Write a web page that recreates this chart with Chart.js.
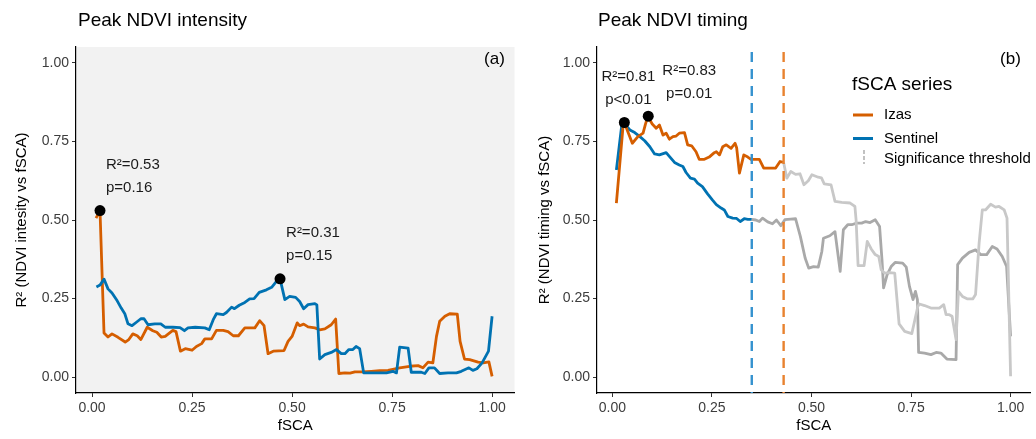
<!DOCTYPE html>
<html>
<head>
<meta charset="utf-8">
<script src="https://cdn.jsdelivr.net/npm/chart.js@4.4.1/dist/chart.umd.min.js"></script>
<style>
  body { margin: 0; background: #fff; width: 1036px; height: 439px; overflow: hidden; position: relative; }
  .panel { position: absolute; top: 0; height: 439px; }
  #p1 { left: 0; width: 520px; }
  #p2 { left: 520px; width: 516px; }
</style>
</head>
<body>
<div class="panel" id="p1"><canvas id="intensityChart"></canvas></div>
<div class="panel" id="p2"><canvas id="timingChart"></canvas></div>

<script>
// ---- data (fSCA, R²) ----
const fscaTicks = [0, 0.25, 0.5, 0.75, 1];
const r2Ticks = [0, 0.25, 0.5, 0.75, 1];

const intensityIzas = [
  [0.01,0.506],[0.02,0.53],[0.03,0.141],[0.04,0.128],[0.05,0.138],[0.065,0.127],[0.083,0.112],
  [0.092,0.12],[0.102,0.138],[0.113,0.132],[0.122,0.12],[0.138,0.159],[0.152,0.148],[0.162,0.143],
  [0.173,0.128],[0.183,0.13],[0.202,0.149],[0.21,0.145],[0.221,0.083],[0.233,0.091],[0.25,0.086],
  [0.261,0.098],[0.274,0.107],[0.282,0.122],[0.299,0.122],[0.311,0.149],[0.328,0.149],[0.34,0.145],
  [0.353,0.132],[0.366,0.132],[0.382,0.157],[0.407,0.157],[0.419,0.18],[0.43,0.164],[0.44,0.075],
  [0.453,0.083],[0.48,0.085],[0.49,0.114],[0.5,0.13],[0.513,0.173],[0.519,0.164],[0.529,0.169],
  [0.54,0.16],[0.557,0.157],[0.569,0.151],[0.582,0.154],[0.598,0.167],[0.609,0.185],[0.617,0.012],
  [0.632,0.014],[0.645,0.013],[0.657,0.017],[0.675,0.017],[0.698,0.019],[0.719,0.021],[0.74,0.022],
  [0.769,0.03],[0.794,0.035],[0.815,0.037],[0.827,0.03],[0.84,0.048],[0.852,0.046],[0.861,0.13],
  [0.869,0.178],[0.882,0.194],[0.894,0.202],[0.913,0.201],[0.92,0.114],[0.931,0.058],[0.944,0.056],
  [0.965,0.048],[0.978,0.046],[0.992,0.049],[1.0,0.003]
];

const intensitySentinel = [
  [0.011,0.287],[0.02,0.293],[0.03,0.312],[0.04,0.281],[0.05,0.268],[0.063,0.243],[0.073,0.22],
  [0.082,0.202],[0.09,0.17],[0.1,0.164],[0.111,0.175],[0.122,0.186],[0.13,0.186],[0.14,0.167],
  [0.157,0.17],[0.172,0.17],[0.183,0.159],[0.202,0.159],[0.22,0.158],[0.231,0.148],[0.24,0.157],
  [0.258,0.159],[0.282,0.157],[0.293,0.151],[0.303,0.183],[0.311,0.202],[0.328,0.199],[0.336,0.206],
  [0.349,0.223],[0.356,0.218],[0.368,0.229],[0.382,0.238],[0.394,0.249],[0.405,0.25],[0.418,0.27],
  [0.436,0.278],[0.449,0.286],[0.461,0.305],[0.47,0.313],[0.482,0.247],[0.494,0.257],[0.509,0.254],
  [0.519,0.241],[0.529,0.218],[0.54,0.231],[0.557,0.234],[0.562,0.23],[0.569,0.058],[0.582,0.072],
  [0.598,0.079],[0.611,0.088],[0.623,0.075],[0.632,0.075],[0.642,0.088],[0.652,0.088],[0.66,0.098],
  [0.669,0.091],[0.679,0.014],[0.702,0.014],[0.736,0.014],[0.752,0.019],[0.761,0.014],[0.769,0.096],
  [0.79,0.093],[0.798,0.016],[0.823,0.016],[0.832,0.012],[0.842,0.03],[0.856,0.03],[0.869,0.012],
  [0.89,0.014],[0.911,0.014],[0.923,0.019],[0.942,0.03],[0.952,0.022],[0.962,0.027],[0.975,0.046],
  [0.991,0.083],[1.0,0.194]
];

const timingIzas = [
  [0.01,0.554],[0.027,0.802],[0.03,0.81],[0.039,0.78],[0.05,0.744],[0.064,0.765],[0.077,0.776],
  [0.083,0.805],[0.089,0.829],[0.1,0.805],[0.11,0.792],[0.118,0.802],[0.127,0.77],[0.135,0.776],
  [0.143,0.757],[0.152,0.765],[0.16,0.767],[0.168,0.776],[0.181,0.778],[0.189,0.739],[0.199,0.736],
  [0.21,0.717],[0.218,0.693],[0.231,0.693],[0.243,0.7],[0.256,0.714],[0.261,0.717],[0.269,0.707],
  [0.277,0.733],[0.286,0.739],[0.298,0.728],[0.308,0.744],[0.312,0.73],[0.319,0.649],[0.33,0.707],
  [0.34,0.7],[0.348,0.693],[0.369,0.693],[0.38,0.665],[0.41,0.665],[0.421,0.686],[0.43,0.683],
  [0.438,0.633],[0.448,0.654],[0.46,0.645],[0.471,0.647],[0.481,0.612],[0.492,0.625],[0.501,0.644],
  [0.517,0.636],[0.525,0.634],[0.532,0.615],[0.549,0.612],[0.559,0.559],[0.576,0.556],[0.597,0.554],
  [0.609,0.543],[0.612,0.5],[0.617,0.355],[0.632,0.355],[0.64,0.432],[0.65,0.408],[0.66,0.39],
  [0.669,0.384],[0.675,0.342],[0.684,0.331],[0.696,0.333],[0.709,0.331],[0.72,0.17],[0.734,0.146],
  [0.752,0.139],[0.767,0.225],[0.771,0.233],[0.784,0.228],[0.8,0.22],[0.821,0.22],[0.832,0.231],
  [0.838,0.199],[0.846,0.199],[0.853,0.194],[0.863,0.12],[0.869,0.273],[0.879,0.257],[0.892,0.249],
  [0.905,0.249],[0.912,0.263],[0.921,0.427],[0.929,0.532],[0.937,0.532],[0.95,0.55],[0.962,0.541],
  [0.971,0.543],[0.984,0.532],[0.991,0.506],[1.0,0.003]
];

const timingSentinel = [
  [0.01,0.659],[0.023,0.797],[0.031,0.805],[0.044,0.786],[0.056,0.778],[0.069,0.765],[0.081,0.752],
  [0.094,0.733],[0.106,0.71],[0.118,0.707],[0.135,0.714],[0.143,0.702],[0.156,0.683],[0.168,0.675],
  [0.177,0.67],[0.185,0.651],[0.196,0.633],[0.206,0.63],[0.214,0.617],[0.226,0.606],[0.239,0.583],
  [0.251,0.564],[0.261,0.549],[0.273,0.538],[0.281,0.532],[0.29,0.511],[0.302,0.506],[0.312,0.505],
  [0.321,0.495],[0.331,0.504],[0.34,0.502],[0.35,0.502],[0.36,0.5],[0.369,0.495],[0.377,0.506],
  [0.39,0.494],[0.402,0.488],[0.412,0.5],[0.423,0.482],[0.433,0.501],[0.448,0.503],[0.46,0.504],
  [0.472,0.448],[0.484,0.379],[0.493,0.347],[0.505,0.352],[0.517,0.35],[0.526,0.4],[0.53,0.442],
  [0.546,0.45],[0.559,0.463],[0.572,0.337],[0.58,0.469],[0.591,0.485],[0.601,0.485],[0.613,0.49],
  [0.626,0.49],[0.636,0.495],[0.647,0.492],[0.66,0.501],[0.671,0.479],[0.677,0.374],[0.681,0.284],
  [0.69,0.326],[0.7,0.352],[0.71,0.365],[0.729,0.363],[0.738,0.35],[0.746,0.289],[0.755,0.247],
  [0.761,0.273],[0.766,0.247],[0.769,0.079],[0.784,0.077],[0.8,0.072],[0.813,0.079],[0.825,0.077],
  [0.84,0.058],[0.863,0.056],[0.867,0.358],[0.879,0.379],[0.896,0.397],[0.912,0.405],[0.925,0.39],
  [0.94,0.39],[0.954,0.416],[0.966,0.408],[0.979,0.384],[0.99,0.352],[1.0,0.13]
];

const intensityPeaks = [[0.02, 0.53], [0.47, 0.313]];
const intensityPeakLabels = [["R²=0.53", "p=0.16"], ["R²=0.31", "p=0.15"]];
const timingPeaks = [[0.03, 0.81], [0.09, 0.83]];
const timingPeakLabels = [["R²=0.81", "p<0.01"], ["R²=0.83", "p=0.01"]];

const sentinelThreshold = 0.35;
const izasThreshold = 0.43;

// ---- styles ----
Chart.defaults.font.family = '"Liberation Sans", Arial, Helvetica, sans-serif';
Chart.defaults.color = '#000';

const ORANGE = '#D55E00';
const BLUE = '#0072B2';
const GREY_IZAS = '#C8C8C8';
const GREY_SENTINEL = '#A9A9A9';

const toXY = arr => arr.map(([x, y]) => ({ x, y }));

function axisStyle() {
  return {
    type: 'linear',
    grid: { drawOnChartArea: false, drawTicks: true, tickLength: 4, tickColor: '#333', tickWidth: 1 },
    border: { display: true, color: '#000', width: 1.2 },
    ticks: { color: '#3d3d3d', font: { size: 14 }, padding: 3, callback: v => v.toFixed(2) }
  };
}

function makeScales(yTitle, yTitlePad, axisWidth, xMin, xMax) {
  return {
    x: Object.assign(axisStyle(), {
      min: xMin, max: xMax,
      afterBuildTicks: s => { s.ticks = fscaTicks.map(v => ({ value: v })); },
      afterFit: s => { s.height = 46; },
      title: { display: true, text: 'fSCA', font: { size: 15 }, padding: { bottom: 4 } }
    }),
    y: Object.assign(axisStyle(), {
      min: -0.05, max: 1.05,
      afterBuildTicks: s => { s.ticks = r2Ticks.map(v => ({ value: v })); },
      afterFit: s => { s.width = axisWidth; },
      title: { display: true, text: yTitle, font: { size: 15 }, padding: { top: yTitlePad } }
    })
  };
}

function lineSet(label, data, color, segment) {
  const ds = {
    label, data: toXY(data), borderColor: color, borderWidth: 2.8,
    pointRadius: 0, tension: 0, borderJoinStyle: 'round', fill: false
  };
  if (segment) ds.segment = segment;
  return ds;
}

function peakSet(data) {
  return {
    label: 'peaks', data: toXY(data), showLine: false,
    pointRadius: 5.5, pointBackgroundColor: '#000', pointBorderWidth: 0
  };
}

// titles, panel tags, labels, thresholds, legend
function decor(cfg) {
  return {
    id: 'decor',
    beforeDraw(chart) {
      if (!cfg.panelFill) return;
      const { ctx, chartArea: a } = chart;
      ctx.save();
      ctx.fillStyle = cfg.panelFill;
      ctx.fillRect(a.left, a.top, a.right - a.left, a.bottom - a.top);
      ctx.restore();
    },
    afterDatasetsDraw(chart) {
      const { ctx, chartArea: a, scales: { x, y } } = chart;
      ctx.save();

      (cfg.thresholds || []).forEach(t => {
        const px = x.getPixelForValue(t.value);
        ctx.strokeStyle = t.color;
        ctx.lineWidth = 2.4;
        ctx.setLineDash([10, 7]);
        ctx.beginPath();
        ctx.moveTo(px, a.top + 5);
        ctx.lineTo(px, a.bottom);
        ctx.stroke();
      });
      ctx.setLineDash([]);

      ctx.fillStyle = '#1a1a1a';
      ctx.font = '15px "Liberation Sans", Arial, sans-serif';
      ctx.textBaseline = 'middle';
      cfg.peaks.forEach(([fx, fy], i) => {
        const px = x.getPixelForValue(fx), py = y.getPixelForValue(fy);
        const dx = cfg.labelDx[i];
        ctx.textAlign = cfg.labelAlign;
        ctx.fillText(cfg.labels[i][0], px + dx, py - 45.5);
        ctx.fillText(cfg.labels[i][1], px + dx, py - 22.5);
      });

      ctx.fillStyle = '#000';
      ctx.textAlign = 'left';
      ctx.font = '19px "Liberation Sans", Arial, sans-serif';
      ctx.fillText(cfg.title, 78, 21);

      ctx.textAlign = 'center';
      ctx.font = '17px "Liberation Sans", Arial, sans-serif';
      ctx.fillText(cfg.tag, a.right - 20, 59);

      if (cfg.legend) {
        const lx = 332;
        ctx.textAlign = 'left';
        ctx.font = '19px "Liberation Sans", Arial, sans-serif';
        ctx.fillText('fSCA series', lx, 85);
        ctx.font = '15px "Liberation Sans", Arial, sans-serif';
        [['Izas', ORANGE, 115], ['Sentinel', BLUE, 138.5]].forEach(([name, col, ly]) => {
          ctx.strokeStyle = col;
          ctx.lineWidth = 3;
          ctx.beginPath();
          ctx.moveTo(lx + 1, ly);
          ctx.lineTo(lx + 21, ly);
          ctx.stroke();
          ctx.fillText(name, lx + 32, ly);
        });
        ctx.strokeStyle = '#999';
        ctx.lineWidth = 1.2;
        ctx.setLineDash([4, 2]);
        ctx.beginPath();
        ctx.moveTo(lx + 12, 150);
        ctx.lineTo(lx + 12, 164);
        ctx.stroke();
        ctx.setLineDash([]);
        ctx.fillText('Significance threshold', lx + 32, 159);
      }
      ctx.restore();
    }
  };
}

// ---- Peak NDVI intensity ----
new Chart(document.getElementById('intensityChart'), {
  type: 'line',
  data: {
    datasets: [
      peakSet(intensityPeaks),
      lineSet('Sentinel', intensitySentinel, BLUE),
      lineSet('Izas', intensityIzas, ORANGE)
    ]
  },
  options: {
    responsive: true, maintainAspectRatio: false, animation: false,
    layout: { padding: { top: 47, right: 5, left: 0, bottom: 0 } },
    scales: makeScales('R² (NDVI intesity vs fSCA)', 13, 76, -0.04, 1.056),
    plugins: { legend: { display: false }, tooltip: { enabled: false } }
  },
  plugins: [decor({
    panelFill: '#F2F2F2', title: 'Peak NDVI intensity', tag: '(a)',
    peaks: intensityPeaks, labels: intensityPeakLabels, labelAlign: 'left', labelDx: [6, 6]
  })]
});

// ---- Peak NDVI timing ----
new Chart(document.getElementById('timingChart'), {
  type: 'line',
  data: {
    datasets: [
      peakSet(timingPeaks),
      lineSet('Izas', timingIzas, ORANGE, {
        borderColor: c => (c.p0.parsed.x >= izasThreshold - 1e-9 ? GREY_IZAS : ORANGE)
      }),
      lineSet('Sentinel', timingSentinel, BLUE, {
        borderColor: c => (c.p0.parsed.x >= sentinelThreshold - 1e-9 ? GREY_SENTINEL : BLUE)
      })
    ]
  },
  options: {
    responsive: true, maintainAspectRatio: false, animation: false,
    layout: { padding: { top: 47, right: 2.4, left: 0, bottom: 0 } },
    scales: makeScales('R² (NDVI timing vs fSCA)', 16, 77, -0.0387, 1.05),
    plugins: { legend: { display: false }, tooltip: { enabled: false } }
  },
  plugins: [decor({
    title: 'Peak NDVI timing', tag: '(b)',
    peaks: timingPeaks, labels: timingPeakLabels, labelAlign: 'center', labelDx: [4, 41],
    thresholds: [
      { value: sentinelThreshold, color: '#3592CF' },
      { value: izasThreshold, color: '#E8822F' }
    ],
    legend: true
  })]
});
</script>
</body>
</html>
